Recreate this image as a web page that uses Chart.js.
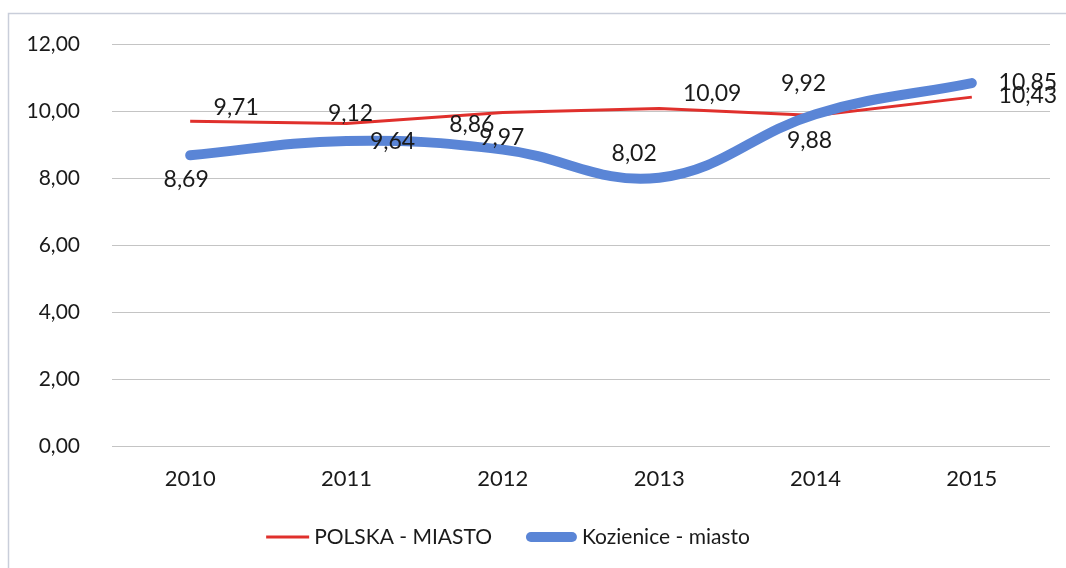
<!DOCTYPE html>
<html>
<head>
<meta charset="utf-8">
<script src="https://cdn.jsdelivr.net/npm/chart.js@4/dist/chart.umd.min.js"></script>
<style>
  html, body { margin: 0; padding: 0; background: #ffffff; }
  #wrap { width: 1066px; height: 568px; position: relative; }
</style>
</head>
<body>
<div id="wrap"><canvas id="chart" width="1066" height="568"></canvas></div>
<script>
// Years on the category axis
const years = ['2010', '2011', '2012', '2013', '2014', '2015'];
// Series values
const polskaMiasto = [9.71, 9.64, 9.97, 10.09, 9.88, 10.43];
const koziniceMiasto = [8.69, 9.12, 8.86, 8.02, 9.92, 10.85];
// Value axis ticks
const yTicks = [0, 2, 4, 6, 8, 10, 12];

const FONT = 'Lato, "Open Sans", sans-serif';
const TEXT = '#1a1a1a';
const fmt = v => v.toFixed(2).replace('.', ',');

// Offsets (px) of each value label relative to its point
const labelOffsets = {
  blue: [[-4, 24], [4, -27], [-31, -25], [-25, -24], [-12, -31], [56, 0]],
  red:  [[46, -14], [46, 18], [-1, 25], [53, -15], [-6, 25], [56, -2]]
};

const framePlugin = {
  id: 'frame',
  beforeDraw(chart) {
    const ctx = chart.ctx;
    ctx.save();
    ctx.fillStyle = '#ffffff';
    ctx.fillRect(0, 0, chart.width, chart.height);
    ctx.strokeStyle = '#c9ceda';
    ctx.lineWidth = 1.5;
    ctx.beginPath();
    ctx.moveTo(8.5, chart.height);
    ctx.lineTo(8.5, 13.5);
    ctx.lineTo(chart.width, 13.5);
    ctx.stroke();
    ctx.restore();
  }
};

const valueLabels = {
  id: 'valueLabels',
  afterDatasetsDraw(chart) {
    const ctx = chart.ctx;
    ctx.save();
    ctx.font = '23px ' + FONT;
    ctx.fillStyle = TEXT;
    ctx.textAlign = 'center';
    ctx.textBaseline = 'middle';
    chart.data.datasets.forEach((ds, di) => {
      const meta = chart.getDatasetMeta(di);
      const offs = labelOffsets[ds.key];
      meta.data.forEach((pt, i) => {
        ctx.fillText(fmt(ds.data[i]), pt.x + offs[i][0], pt.y + offs[i][1]);
      });
    });
    ctx.restore();
  }
};

const customLegend = {
  id: 'customLegend',
  afterDraw(chart) {
    const ctx = chart.ctx;
    ctx.save();
    ctx.font = '21px ' + FONT;
    ctx.fillStyle = TEXT;
    ctx.textBaseline = 'middle';
    const items = [chart.data.datasets[1], chart.data.datasets[0]];
    const lineLen = [43, 51];
    const gapText = 5, gapItem = 34;
    let total = 0;
    items.forEach((ds, i) => {
      total += lineLen[i] + gapText + ctx.measureText(ds.label).width;
      if (i < items.length - 1) total += gapItem;
    });
    let x = 508 - total / 2;
    const y = 537;
    items.forEach((ds, i) => {
      ctx.strokeStyle = ds.borderColor;
      ctx.lineWidth = ds.borderWidth;
      ctx.lineCap = ds.key === 'blue' ? 'round' : 'butt';
      const capPad = ds.key === 'blue' ? ds.borderWidth / 2 : 0;
      ctx.beginPath();
      ctx.moveTo(x + capPad, y);
      ctx.lineTo(x + lineLen[i] - capPad, y);
      ctx.stroke();
      x += lineLen[i] + gapText;
      ctx.fillText(ds.label, x, y);
      x += ctx.measureText(ds.label).width + gapItem;
    });
    ctx.restore();
  }
};

new Chart(document.getElementById('chart'), {
  type: 'line',
  data: {
    labels: years,
    datasets: [
      {
        key: 'blue',
        label: 'Kozienice - miasto',
        data: koziniceMiasto,
        borderColor: '#5a85d6',
        borderWidth: 10,
        borderCapStyle: 'round',
        tension: 0.4,
        pointRadius: 0,
        pointHoverRadius: 0,
        fill: false,
        order: 0
      },
      {
        key: 'red',
        label: 'POLSKA - MIASTO',
        data: polskaMiasto,
        borderColor: '#e0302c',
        borderWidth: 3,
        tension: 0,
        pointRadius: 0,
        pointHoverRadius: 0,
        fill: false,
        order: 1
      }
    ]
  },
  options: {
    responsive: false,
    animation: false,
    events: [],
    layout: { padding: { top: 42, right: 16, left: 0, bottom: 0 } },
    plugins: {
      legend: { display: false },
      tooltip: { enabled: false },
      title: { display: false }
    },
    scales: {
      x: {
        offset: true,
        grid: { display: false, drawTicks: false },
        border: { display: false },
        ticks: { color: TEXT, font: { family: FONT, size: 22 }, padding: 20 },
        afterFit(s) { s.height = 122; }
      },
      y: {
        min: 0,
        max: 12,
        afterBuildTicks(s) { s.ticks = yTicks.map(v => ({ value: v })); },
        grid: { color: '#c4c4c4', lineWidth: 1, drawTicks: false },
        border: { display: false },
        ticks: {
          color: TEXT,
          font: { family: FONT, size: 21 },
          padding: 32,
          callback: v => fmt(v)
        },
        afterFit(s) { s.width = 112; }
      }
    }
  },
  plugins: [framePlugin, valueLabels, customLegend]
});
</script>
</body>
</html>
